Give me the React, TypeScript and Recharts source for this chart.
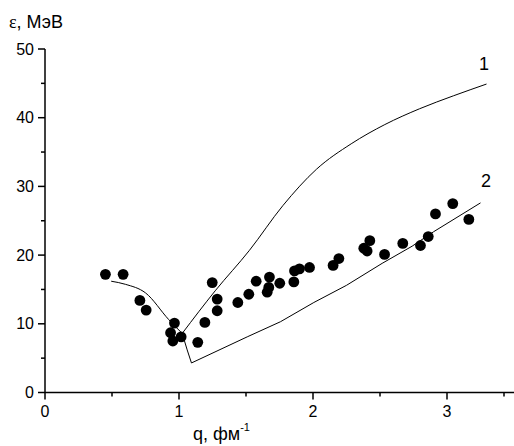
import { ComposedChart, Line, Scatter, XAxis, YAxis } from 'recharts'

// experimental points: q (fm^-1), energy (MeV)
const dotQ = [
  0.451, 0.583, 0.708, 0.755, 0.966, 0.937, 0.954, 1.016, 1.14, 1.193, 1.248, 1.285,
  1.285, 1.439, 1.521, 1.576, 1.658, 1.67, 1.675, 1.752, 1.857, 1.862, 1.899, 1.974,
  2.15, 2.193, 2.379, 2.404, 2.424, 2.534, 2.67, 2.802, 2.86, 2.914, 3.043, 3.163,
]
const dotE = [
  17.2, 17.2, 13.4, 12.0, 10.1, 8.7, 7.5, 8.1, 7.3, 10.2, 16.0, 13.6,
  11.9, 13.1, 14.3, 16.2, 14.6, 15.3, 16.8, 15.9, 16.1, 17.7, 18.0, 18.2,
  18.5, 19.5, 21.0, 20.6, 22.1, 20.1, 21.7, 21.4, 22.7, 26.0, 27.5, 25.2,
]

// shared left branch of both curves
const leftQ = [0.494, 0.6, 0.75, 0.924, 1.024]
const leftE = [16.2, 15.75, 14.5, 10.6, 8.6]

// curve 1
const c1Q = [1.024, 1.27, 1.526, 1.775, 2.026, 2.285, 2.536, 2.795, 3.05, 3.295]
const c1E = [8.6, 14.8, 20.7, 27.2, 32.5, 36.2, 39.0, 41.3, 43.2, 44.9]

// curve 2
const c2Q = [1.024, 1.061, 1.093, 1.509, 1.757, 2.006, 2.25, 2.516, 2.74, 2.9, 3.25]
const c2E = [8.6, 6.2, 4.3, 8.1, 10.3, 13.1, 15.6, 18.8, 21.3, 23.4, 27.6]

const xTicks = [0, 0.5, 1, 1.5, 2, 2.5, 3, 3.5]
const yTicks = [0, 5, 10, 15, 20, 25, 30, 35, 40, 45, 50]

const zip = (q: number[], e: number[]) => q.map((x, i) => ({ x, y: e[i] }))

const dots = zip(dotQ, dotE)
const left = zip(leftQ, leftE)
const curve1 = zip(c1Q, c1E)
const curve2 = zip(c2Q, c2E)

const sans = '"Liberation Sans", Arial, sans-serif'

const XTick = (props: any) => {
  const { x, y, payload } = props
  const major = Number.isInteger(payload.value)
  return (
    <g>
      <line x1={x} x2={x} y1={y} y2={y + (major ? 7 : 4)} stroke="#000" strokeWidth={1.5} />
      {major && (
        <text x={x} y={y + 24} textAnchor="middle" fontSize={16} fontFamily={sans} fill="#000">
          {payload.value}
        </text>
      )}
    </g>
  )
}

const YTick = (props: any) => {
  const { x, y, payload } = props
  const major = payload.value % 10 === 0
  return (
    <g>
      <line x1={x} x2={x - (major ? 7 : 4)} y1={y} y2={y} stroke="#000" strokeWidth={1.5} />
      {major && (
        <text x={x - 11} y={y + 5.5} textAnchor="end" fontSize={16} fontFamily={sans} fill="#000">
          {payload.value}
        </text>
      )}
    </g>
  )
}

const endLabel = (text: string, len: number, dx: number, dy: number) => (props: any) => {
  if (props.index !== len - 1) return null
  return (
    <text x={props.x + dx} y={props.y + dy} textAnchor="middle" fontSize={18} fontFamily={sans} fill="#000">
      {text}
    </text>
  )
}

const Dot = (props: any) => <circle cx={props.cx} cy={props.cy} r={5.4} fill="#000" />

export default function App() {
  return (
    <div style={{ position: 'absolute', left: 0, top: 0, width: 514, height: 446, background: '#fff' }}>
      <ComposedChart width={514} height={446} margin={{ top: 49, right: 0, left: 1, bottom: 0 }}>
        <XAxis
          type="number"
          dataKey="x"
          domain={[0, 3.5]}
          ticks={xTicks}
          tick={<XTick />}
          tickLine={false}
          tickSize={0}
          tickMargin={0}
          height={53.5}
          axisLine={{ stroke: '#000', strokeWidth: 1.5 }}
          allowDataOverflow
        />
        <YAxis
          type="number"
          dataKey="y"
          domain={[0, 50]}
          ticks={yTicks}
          tick={<YTick />}
          tickLine={false}
          tickSize={0}
          tickMargin={0}
          width={44}
          axisLine={{ stroke: '#000', strokeWidth: 1.5 }}
        />
        <Line data={left} dataKey="y" type="monotone" stroke="#000" strokeWidth={1} dot={false} isAnimationActive={false} />
        <Line
          data={curve1}
          dataKey="y"
          type="monotone"
          stroke="#000"
          strokeWidth={1}
          dot={false}
          isAnimationActive={false}
          label={endLabel('1', curve1.length, -2.5, -14)}
        />
        <Line
          data={curve2}
          dataKey="y"
          type="linear"
          stroke="#000"
          strokeWidth={1}
          dot={false}
          isAnimationActive={false}
          label={endLabel('2', curve2.length, 5.5, -16)}
        />
        <Scatter data={dots} dataKey="y" shape={<Dot />} isAnimationActive={false} />
      </ComposedChart>
      <svg width={514} height={446} style={{ position: 'absolute', left: 0, top: 0, pointerEvents: 'none' }}>
        <text x={9} y={28} fontSize={18} fontFamily={sans} fill="#000">
          <tspan fontFamily='"Liberation Serif", "Times New Roman", serif'>ε</tspan>, МэВ
        </text>
        <text x={193} y={440} fontSize={18} fontFamily={sans} fill="#000">
          q, фм
          <tspan fontSize={11} dy={-9}>-1</tspan>
        </text>
      </svg>
    </div>
  )
}
